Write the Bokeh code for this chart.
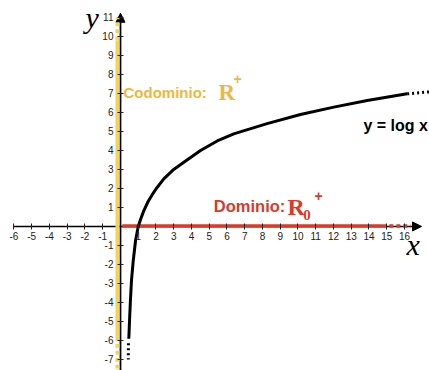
from bokeh.plotting import figure
from bokeh.models import Range1d, FixedTicker, Arrow, NormalHead, Label, PrintfTickFormatter
from bokeh.embed import file_html
from bokeh.resources import INLINE

# ---- data ----
curve_x = [0.47, 0.51, 0.56, 0.62, 0.72, 0.85, 1.0, 1.15, 1.31, 1.55, 1.78, 2.0, 2.44, 3.0,
           3.57, 4.51, 5.45, 6.38, 8.26, 10.14, 12.02, 13.90, 16.15]
curve_y = [-5.91, -4.95, -3.89, -2.84, -1.79, -0.74, 0.0, 0.42, 0.82, 1.30, 1.66, 1.97, 2.50, 3.0,
           3.38, 4.0, 4.50, 4.87, 5.41, 5.89, 6.28, 6.63, 6.98]
curve_tail_x = [16.15, 17.4]
curve_tail_y = [6.98, 7.08]
curve_head_x = [0.45, 0.44]
curve_head_y = [-6.15, -7.0]

domain_x = [0.1, 14.75]
domain_dash_x = [14.75, 16.35]
codomain_y = [-5.8, 9.8]
codomain_dash_top = [9.8, 11.0]
codomain_dash_bottom = [-5.8, -7.6]
band_x = -0.17

x_ticks = [-6, -5, -4, -3, -2, -1, 1, 2, 3, 4, 5, 6, 7, 8, 9, 10, 11, 12, 13, 14, 15, 16]
y_ticks = [-7, -6, -5, -4, -3, -2, -1, 1, 2, 3, 4, 5, 6, 7, 8, 9, 10, 11]

YELLOW = "#F4D64E"
GOLD = "#EFB73E"
RED = "#D93A2B"

p = figure(width=429, height=370, x_range=Range1d(-6.76, 17.41), y_range=Range1d(-7.58, 11.89),
           output_backend="svg", toolbar_location=None, min_border=0)
p.xgrid.visible = False
p.ygrid.visible = False
p.outline_line_color = None
p.background_fill_color = "white"
p.border_fill_color = "white"

for ax, ticks in ((p.xaxis, x_ticks), (p.yaxis, y_ticks)):
    ax.fixed_location = 0
    ax.ticker = FixedTicker(ticks=ticks, minor_ticks=[])
    ax.formatter = PrintfTickFormatter(format="%d")
    ax.axis_line_color = None
    ax.major_tick_in = 3
    ax.major_tick_out = 3
    ax.major_tick_line_color = "#222222"
    ax.major_label_text_font = "Liberation Sans"
    ax.major_label_text_font_size = "10px"
    ax.major_label_text_color = "#222222"
    ax.minor_tick_line_color = None
p.xaxis.major_label_standoff = 3
p.yaxis.major_label_standoff = 4

# axes lines with arrow heads
p.add_layout(Arrow(x_start=-6, y_start=0, x_end=16.96, y_end=0, line_width=1.6, line_color="black",
                   end=NormalHead(size=9, fill_color="black", line_color="black"), level="underlay"))
p.add_layout(Arrow(x_start=0, y_start=-7.6, x_end=0, y_end=11.22, line_width=1.8, line_color="black",
                   end=NormalHead(size=9, fill_color="black", line_color="black"), level="underlay"))

# codomain band (yellow)
p.line([band_x, band_x], codomain_y, line_color=YELLOW, line_width=4)
p.line([band_x, band_x], codomain_dash_top, line_color=YELLOW, line_width=4, line_dash="4 3")
p.line([band_x, band_x], codomain_dash_bottom, line_color=YELLOW, line_width=4, line_dash="4 3")

# domain band (red)
p.line(domain_x, [0.02, 0.02], line_color=RED, line_width=3.5)
p.line(domain_dash_x, [0.02, 0.02], line_color=RED, line_width=3.5, line_dash="4 3")

# the curve
p.line(curve_x, curve_y, line_color="black", line_width=3, line_join="round")
p.line(curve_tail_x, curve_tail_y, line_color="black", line_width=3, line_dash="2 3")
p.line(curve_head_x, curve_head_y, line_color="black", line_width=3, line_dash="2 3")

def lab(x, y, text, size, color, font="Liberation Sans", style="bold"):
    p.add_layout(Label(x=x, y=y, text=text, text_font_size=size, text_color=color,
                       text_font=font, text_font_style=style, text_align="left",
                       text_baseline="alphabetic"))

lab(0.17, 7.05, "Codominio:", "15px", GOLD)
lab(5.52, 7.05, "R", "23px", GOLD, font="Liberation Serif")
lab(6.37, 7.75, "+", "14px", GOLD)

lab(5.26, 1.05, "Dominio:", "16.5px", RED)
lab(9.41, 1.02, "R", "24px", RED, font="Liberation Serif")
lab(10.3, 0.6, "0", "15px", RED, font="Liberation Serif")
lab(10.93, 1.58, "+", "14px", RED)

lab(13.69, 5.32, "y = log x", "16px", "black")

lab(-1.97, 11.0, "y", "30px", "black", font="Liberation Serif", style="italic")
lab(16.11, -0.95, "x", "30px", "black", font="Liberation Serif", style="italic")

open("out.html", "w").write(file_html(p, INLINE))
